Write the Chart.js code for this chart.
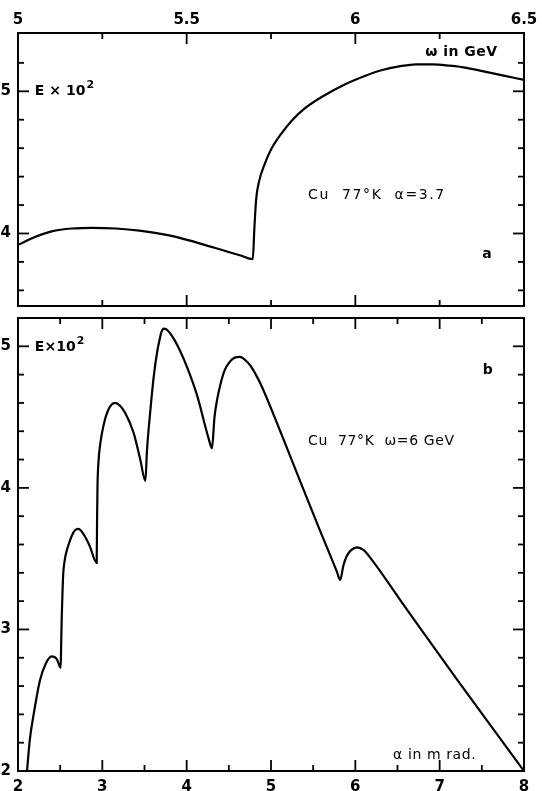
<!DOCTYPE html>
<html>
<head>
<meta charset="utf-8">
<script src="https://cdn.jsdelivr.net/npm/chart.js@4/dist/chart.umd.min.js"></script>
<style>
  html, body { margin: 0; padding: 0; background: #fff; }
  #wrap { position: relative; width: 542px; height: 791px; }
  canvas { position: absolute; left: 0; }
</style>
</head>
<body>
<div id="wrap">
  <canvas id="topChart" width="542" height="312" style="top:0;width:542px;height:312px"></canvas>
  <canvas id="botChart" width="542" height="479" style="top:312px;width:542px;height:479px"></canvas>
</div>
<script>
// panel a: E against omega (GeV), Cu 77 K, alpha = 3.7
const omegaA  = [5.00, 5.05, 5.10, 5.16, 5.22, 5.29, 5.36, 5.44, 5.51, 5.56, 5.61, 5.66, 5.696,
                 5.701, 5.706, 5.715, 5.73, 5.75, 5.78, 5.81, 5.85, 5.90, 5.97, 6.03, 6.08, 6.13,
                 6.18, 6.23, 6.28, 6.33, 6.38, 6.44, 6.50];
const energyA = [3.92, 3.975, 4.015, 4.035, 4.04, 4.035, 4.02, 3.99, 3.95, 3.915, 3.88, 3.845, 3.82,
                 4.05, 4.24, 4.37, 4.48, 4.59, 4.70, 4.79, 4.88, 4.96, 5.05, 5.11, 5.15, 5.175,
                 5.19, 5.19, 5.18, 5.165, 5.14, 5.11, 5.08];

// panel b: E against alpha (mrad), Cu 77 K, omega = 6 GeV
const alphaB  = [2.107, 2.14, 2.18, 2.26, 2.33, 2.40, 2.46, 2.506,
                 2.512, 2.518, 2.527, 2.537, 2.547, 2.56, 2.577, 2.60, 2.637, 2.675, 2.715,
                 2.78, 2.85, 2.933,
                 2.938, 2.943, 2.955, 2.973, 3.01, 3.07, 3.15, 3.21, 3.27, 3.37, 3.45, 3.51,
                 3.53, 3.57, 3.61, 3.65, 3.68, 3.70, 3.73, 3.76, 3.80, 3.86, 3.92, 4.00, 4.12, 4.26, 4.30,
                 4.33, 4.36, 4.40, 4.45, 4.51, 4.57, 4.63, 4.70, 4.76, 4.82, 4.88,
                 5.11, 5.35, 5.58, 5.78, 5.82,
                 5.86, 5.90, 5.95, 6.02, 6.10, 6.16, 6.60, 7.20, 8.00];
const energyB = [2.00, 2.22, 2.38, 2.64, 2.76, 2.81, 2.79, 2.73,
                 2.90, 3.07, 3.25, 3.40, 3.46, 3.51, 3.555, 3.60, 3.66, 3.70, 3.71,
                 3.67, 3.59, 3.47,
                 3.80, 4.02, 4.19, 4.30, 4.43, 4.55, 4.60, 4.58, 4.53, 4.39, 4.20, 4.05,
                 4.27, 4.55, 4.79, 4.96, 5.05, 5.10, 5.125, 5.12, 5.095, 5.04, 4.97, 4.86, 4.66, 4.35, 4.28,
                 4.50, 4.62, 4.73, 4.83, 4.89, 4.92, 4.925, 4.90, 4.86, 4.80, 4.73,
                 4.40, 4.04, 3.70, 3.41, 3.35,
                 3.455, 3.52, 3.56, 3.58, 3.56, 3.52, 3.15, 2.65, 2.00];

// tick values and labels ('' = minor tick, no label)
const omegaTicks  = [5, 5.25, 5.5, 5.75, 6, 6.25, 6.5];
const omegaLabels = ['5', '', '5.5', '', '6', '', '6.5'];
const eTicksA  = [3.6, 3.8, 4.0, 4.2, 4.4, 4.6, 4.8, 5.0, 5.2];
const eLabelsA = ['', '', '4', '', '', '', '', '5', ''];
const alphaTicks  = [2, 2.5, 3, 3.5, 4, 4.5, 5, 5.5, 6, 6.5, 7, 7.5, 8];
const alphaLabels = ['2', '', '3', '', '4', '', '5', '', '6', '', '7', '', '8'];
const eTicksB  = [2.0, 2.2, 2.4, 2.6, 2.8, 3.0, 3.2, 3.4, 3.6, 3.8, 4.0, 4.2, 4.4, 4.6, 4.8, 5.0];
const eLabelsB = ['2', '', '', '', '', '3', '', '', '', '', '4', '', '', '', '', '5'];

const labelFont = { family: 'DejaVu Sans', size: 15, weight: 'bold' };

function zip(xs, ys) { return xs.map((x, i) => ({ x: x, y: ys[i] })); }

// frame + inward tick marks on all four sides
const frameTicks = {
  id: 'frameTicks',
  afterDraw(chart) {
    const { ctx, chartArea: a, scales } = chart;
    ctx.save();
    ctx.strokeStyle = '#000';
    ctx.lineWidth = 2;
    ctx.strokeRect(a.left, a.top, a.right - a.left, a.bottom - a.top);
    ctx.lineWidth = 1.8;
    function seg(x1, y1, x2, y2) { ctx.beginPath(); ctx.moveTo(x1, y1); ctx.lineTo(x2, y2); ctx.stroke(); }
    scales.x.ticks.forEach(t => {
      const px = scales.x.getPixelForValue(t.value);
      if (px <= a.left + 2 || px >= a.right - 2) return;
      const len = t.label !== '' ? 11 : 6;
      seg(px, a.top, px, a.top + len);
      seg(px, a.bottom, px, a.bottom - len);
    });
    scales.y.ticks.forEach(t => {
      const py = scales.y.getPixelForValue(t.value);
      if (py <= a.top + 2 || py >= a.bottom - 2) return;
      const len = t.label !== '' ? 11 : 6;
      seg(a.left, py, a.left + len, py);
      seg(a.right, py, a.right - len, py);
    });
    ctx.restore();
  }
};

// text notes placed at data coordinates
const notes = {
  id: 'notes',
  afterDraw(chart, args, opts) {
    const { ctx, scales } = chart;
    ctx.save();
    ctx.fillStyle = '#000';
    ctx.textBaseline = 'middle';
    ctx.textAlign = 'left';
    (opts.items || []).forEach(n => {
      const px = scales.x.getPixelForValue(n.x);
      const py = scales.y.getPixelForValue(n.y);
      ctx.font = n.font;
      ctx.letterSpacing = (n.ls || 0) + 'px';
      ctx.fillText(n.text, px, py);
      if (n.sup) {
        const w = ctx.measureText(n.text).width;
        ctx.font = n.supFont;
        ctx.fillText(n.sup, px + w + 1, py - 6);
      }
    });
    ctx.restore();
  }
};

function makeScale(pos, min, max, vals, labels, size, pad) {
  return {
    type: 'linear',
    position: pos,
    min: min,
    max: max,
    afterBuildTicks: s => { s.ticks = vals.map(v => ({ value: v })); },
    afterFit: s => {
      if (pos === 'left') s.width = size; else s.height = size;
      s.paddingTop = 0; s.paddingBottom = 0; s.paddingLeft = 0; s.paddingRight = 0;
    },
    grid: { display: false, drawTicks: false },
    border: { display: false },
    ticks: {
      autoSkip: false,
      maxRotation: 0,
      padding: pad,
      color: '#000',
      font: labelFont,
      callback: (v, i) => labels[i]
    }
  };
}

const lineStyle = {
  borderColor: '#000',
  borderWidth: 2.2,
  pointRadius: 0,
  fill: false,
  cubicInterpolationMode: 'monotone'
};

const fBold = 'bold 14px "DejaVu Sans"';
const fNormal = '14px "DejaVu Sans"';
const fSup = 'bold 11px "DejaVu Sans"';

new Chart(document.getElementById('topChart'), {
  type: 'line',
  data: { datasets: [Object.assign({ data: zip(omegaA, energyA) }, lineStyle)] },
  options: {
    responsive: false,
    animation: false,
    layout: { padding: { left: 0, right: 18, top: 0, bottom: 6 } },
    plugins: {
      legend: { display: false },
      tooltip: { enabled: false },
      notes: { items: [
        { text: 'ω in GeV', x: 6.207, y: 5.276, font: fBold, ls: 0.5 },
        { text: 'E × 10', sup: '2', x: 5.05, y: 5.0, font: fBold, supFont: fSup },
        { text: 'Cu  77°K  α=3.7', x: 5.86, y: 4.27, font: fNormal, ls: 1.6 },
        { text: 'a', x: 6.376, y: 3.856, font: fBold }
      ] }
    },
    scales: {
      x: makeScale('top', 5, 6.5, omegaTicks, omegaLabels, 33, 4),
      y: makeScale('left', 3.49, 5.41, eTicksA, eLabelsA, 18, 7)
    }
  },
  plugins: [frameTicks, notes]
});

new Chart(document.getElementById('botChart'), {
  type: 'line',
  data: { datasets: [Object.assign({ data: zip(alphaB, energyB) }, lineStyle)] },
  options: {
    responsive: false,
    animation: false,
    layout: { padding: { left: 0, right: 18, top: 6, bottom: 0 } },
    plugins: {
      legend: { display: false },
      tooltip: { enabled: false },
      notes: { items: [
        { text: 'E×10', sup: '2', x: 2.2, y: 4.995, font: fBold, supFont: fSup },
        { text: 'b', x: 7.51, y: 4.83, font: fBold },
        { text: 'Cu  77°K  ω=6 GeV', x: 5.44, y: 4.33, font: fNormal, ls: 0.6 },
        { text: 'α in m rad.', x: 6.447, y: 2.113, font: fNormal, ls: 0.6 }
      ] }
    },
    scales: {
      x: makeScale('bottom', 2, 8, alphaTicks, alphaLabels, 20, 7),
      y: makeScale('left', 2, 5.2, eTicksB, eLabelsB, 18, 7)
    }
  },
  plugins: [frameTicks, notes]
});
</script>
</body>
</html>
